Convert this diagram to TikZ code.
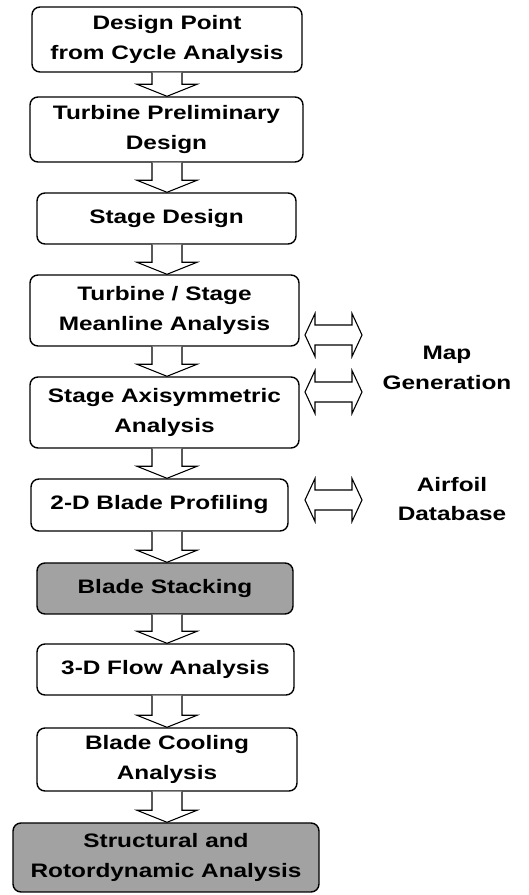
\documentclass[tikz,border=0pt]{standalone}
\usepackage{fontspec}
\newfontfamily\lab{Liberation Sans}[FakeStretch=1.25]
\usetikzlibrary{calc}
\definecolor{boxgray}{HTML}{A2A2A2}
\tikzset{
  stepbox/.style={draw=black, line width=1.4pt, rounded corners=8pt, fill=white,
    align=center, inner sep=0pt, font=\lab\bfseries\fontsize{19.5}{29.5}\selectfont},
  graybox/.style={stepbox, fill=boxgray},
  harrow/.style={draw=black, line width=1.1pt, fill=white, line join=miter},
  sidelabel/.style={align=center, font=\lab\bfseries\fontsize{19.5}{29.5}\selectfont}
}
\begin{document}
\begin{tikzpicture}[x=1pt,y=1pt]
\useasboundingbox (0,0) rectangle (529,895);
\coordinate (ax) at (167,0);
\node[stepbox, minimum width=270pt, minimum height=65pt] (b1) at (167,855.5) {Design Point\\from Cycle Analysis};
\node[stepbox, minimum width=273pt, minimum height=65pt] (b2) at (166.5,765.5) {Turbine Preliminary\\Design};
\node[stepbox, minimum width=259pt, minimum height=51pt] (b3) at (166.5,676.5) {Stage Design};
\node[stepbox, minimum width=269pt, minimum height=71pt] (b4) at (164.5,584.5) {Turbine / Stage\\Meanline Analysis};
\node[stepbox, minimum width=269pt, minimum height=71pt] (b5) at (164.5,482.5) {Stage Axisymmetric\\Analysis};
\node[stepbox, minimum width=257pt, minimum height=52pt] (b6) at (159.5,390) {2-D Blade Profiling};
\node[graybox, minimum width=256pt, minimum height=51pt] (b7) at (165,306.5) {Blade Stacking};
\node[stepbox, minimum width=257pt, minimum height=51pt] (b8) at (165.5,225.5) {3-D Flow Analysis};
\node[stepbox, minimum width=260pt, minimum height=63pt] (b9) at (167,135.5) {Blade Cooling\\Analysis};
\node[graybox, minimum width=306pt, minimum height=69pt] (b10) at (166,37.5) {Structural and\\Rotordynamic Analysis};
\node[sidelabel] (map) at (447,527) {Map\\Generation};
\node[sidelabel] (air) at (452,396) {Airfoil\\Database};
% down arrows
\foreach \a/\b in {b1/b2,b2/b3,b3/b4,b4/b5,b5/b6,b6/b7,b7/b8,b8/b9,b9/b10}{
  \draw[harrow] ($(\a.south -| ax)+(-15,0)$) -- ($(\b.north -| ax)+(-15,12)$) -- ++(-15,0)
    -- (\b.north -| ax) -- ($(\b.north -| ax)+(30,12)$) -- ++(-15,0)
    -- ($(\a.south -| ax)+(15,0)$);
}
% double arrows
\foreach \n/\cy in {d1/560,d2/503,d3/395}{
  \coordinate (\n) at (333.5,\cy);
  \draw[harrow] ($(\n)+(-28.5,0)$) -- ++(10,21.5) -- ++(0,-11.5) -- ++(37,0) -- ++(0,11.5)
    -- ($(\n)+(28.5,0)$) -- ++(-10,-21.5) -- ++(0,11.5) -- ++(-37,0) -- ++(0,-11.5) -- cycle;
}
\end{tikzpicture}
\end{document}
